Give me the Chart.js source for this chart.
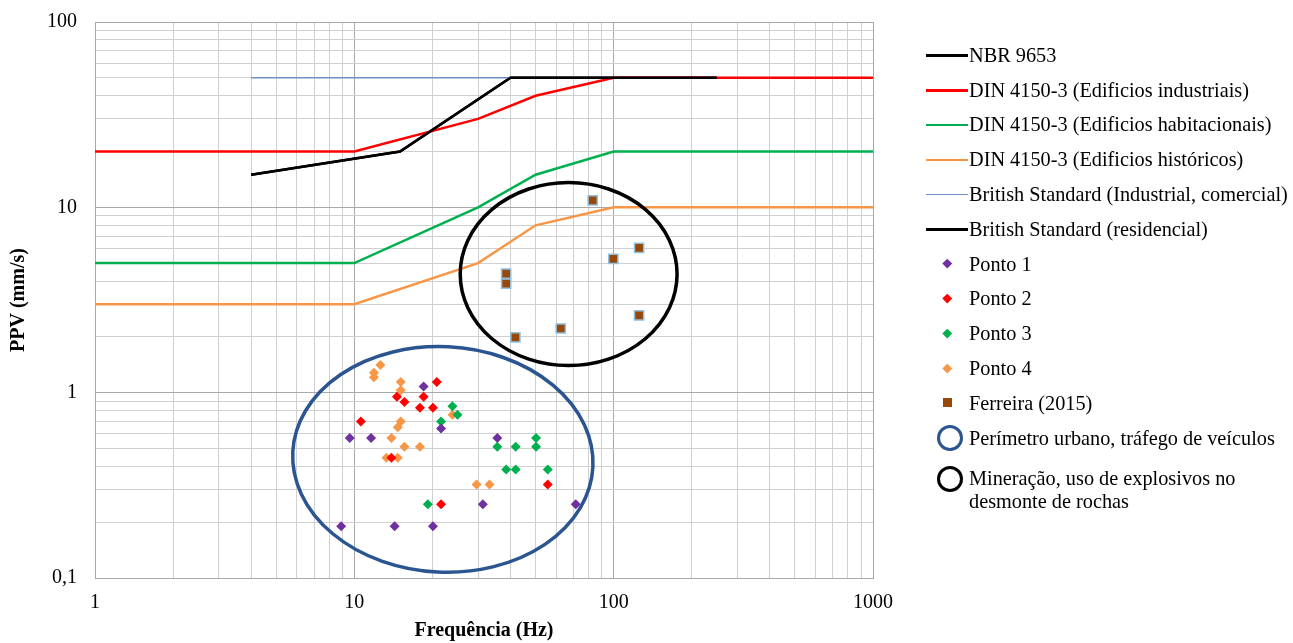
<!DOCTYPE html>
<html>
<head>
<meta charset="utf-8">
<script src="https://cdn.jsdelivr.net/npm/chart.js@4.4.0/dist/chart.umd.min.js"></script>
<style>
html, body { margin: 0; padding: 0; background: #fff; }
#wrap { position: relative; width: 1293px; height: 643px; overflow: hidden; }
#chart { position: absolute; left: 0; top: 0; }
#legend { position: absolute; left: 926px; top: 38px; font-family: "Liberation Serif", "Times New Roman", serif; font-size: 20.3px; color: #000; }
.row { height: 34.8px; display: flex; align-items: center; white-space: nowrap; }
.sample { display: inline-block; position: relative; width: 43px; height: 28px; flex: none; }
.sample .ln { position: absolute; left: 0; right: 1px; top: 13px; height: 2.5px; }
.sample .dm { position: absolute; left: 18px; top: 10px; width: 6.5px; height: 6.5px; transform: rotate(45deg); }
.sample .sq { position: absolute; left: 17px; top: 9px; width: 9px; height: 9px; box-sizing: border-box; }
.sample .cc { position: absolute; left: 11px; top: 1px; width: 26px; height: 26px; box-sizing: border-box; border-radius: 50%; border: 3.5px solid; }
.multi { align-items: flex-start; height: auto; margin-top: 11px; line-height: 23.4px; }
.multi .sample { margin-top: -2px; }
</style>
</head>
<body>
<div id="wrap">
  <canvas id="chart" width="1293" height="643"></canvas>
  <div id="legend"></div>
</div>
<script>
// tick labels
const xTickValues = [1, 10, 100, 1000];
const xTickLabels = ['1', '10', '100', '1000'];
const yTickValues = [0.1, 1, 10, 100];
const yTickLabels = ['0,1', '1', '10', '100'];

// limit curves (Hz / mm/s)
const nbrFreq = [4, 15, 40, 250];
const nbrPpv = [15, 20, 50, 50];
const dinIndFreq = [1, 10, 30, 50, 100, 1000];
const dinIndPpv = [20, 20, 30, 40, 50, 50];
const dinHabFreq = [1, 10, 30, 50, 100, 1000];
const dinHabPpv = [5, 5, 10, 15, 20, 20];
const dinHistFreq = [1, 10, 30, 50, 100, 1000];
const dinHistPpv = [3, 3, 5, 8, 10, 10];
const bsIndFreq = [4, 250];
const bsIndPpv = [50, 50];
const bsResFreq = [4, 15, 40, 250];
const bsResPpv = [15, 20, 50, 50];

// measured points
const ponto1Freq = [18.5, 21.6, 9.6, 11.6, 35.6, 31.3, 71.4, 8.9, 14.3, 20.1];
const ponto1Ppv = [1.08, 0.64, 0.57, 0.57, 0.57, 0.25, 0.25, 0.19, 0.19, 0.19];
const ponto2Freq = [20.8, 18.5, 14.6, 15.6, 17.9, 20.1, 10.6, 13.9, 21.6, 55.7];
const ponto2Ppv = [1.14, 0.95, 0.95, 0.89, 0.83, 0.83, 0.70, 0.445, 0.25, 0.32];
const ponto3Freq = [23.9, 25.0, 21.6, 50.2, 35.6, 41.9, 50.2, 38.5, 41.9, 55.7, 19.2];
const ponto3Ppv = [0.845, 0.76, 0.70, 0.57, 0.51, 0.51, 0.51, 0.385, 0.385, 0.385, 0.25];
const ponto4Freq = [12.6, 11.9, 11.9, 15.1, 15.1, 23.9, 15.1, 14.7, 13.9, 15.6, 17.9, 13.3, 14.7, 29.6, 33.2];
const ponto4Ppv = [1.41, 1.28, 1.21, 1.14, 1.03, 0.76, 0.70, 0.65, 0.57, 0.51, 0.51, 0.445, 0.445, 0.32, 0.32];
const ferreiraFreq = [83.0, 38.5, 38.5, 125.3, 99.7, 125.3, 62.5, 41.8];
const ferreiraPpv = [10.9, 4.39, 3.88, 6.04, 5.27, 2.61, 2.22, 1.99];

// highlighted regions (data units)
const urbanFreqRange = [5.78, 83.3];
const urbanPpvRange = [0.1075, 1.77];
const miningFreqRange = [25.6, 175.6];
const miningPpvRange = [1.40, 13.6];

const pts = (xs, ys) => xs.map((x, i) => ({ x: x, y: ys[i] }));

function lineSet(label, xs, ys, color, width) {
  return { type: 'line', label: label, data: pts(xs, ys), borderColor: color, backgroundColor: color,
    borderWidth: width, pointRadius: 0, tension: 0, fill: false, order: 1 };
}
function pointSet(label, xs, ys, color, style, radius, border) {
  return { type: 'scatter', label: label, data: pts(xs, ys), backgroundColor: color, pointStyle: style,
    pointRadius: radius, pointHoverRadius: radius, pointBorderWidth: border ? 1.5 : 0,
    pointBorderColor: border || color, borderColor: border || color, order: 0 };
}

const datasets = [
  lineSet('NBR 9653', nbrFreq, nbrPpv, '#000000', 2.5),
  lineSet('DIN 4150-3 (Edificios industriais)', dinIndFreq, dinIndPpv, '#ff0000', 2.5),
  lineSet('DIN 4150-3 (Edificios habitacionais)', dinHabFreq, dinHabPpv, '#00b050', 2.5),
  lineSet('DIN 4150-3 (Edificios históricos)', dinHistFreq, dinHistPpv, '#f79646', 2.5),
  lineSet('British Standard (Industrial, comercial)', bsIndFreq, bsIndPpv, '#6f8fc8', 1.5),
  lineSet('British Standard (residencial)', bsResFreq, bsResPpv, '#000000', 2.5),
  pointSet('Ponto 1', ponto1Freq, ponto1Ppv, '#7030a0', 'rectRot', 5),
  pointSet('Ponto 2', ponto2Freq, ponto2Ppv, '#ff0000', 'rectRot', 5),
  pointSet('Ponto 3', ponto3Freq, ponto3Ppv, '#00b050', 'rectRot', 5),
  pointSet('Ponto 4', ponto4Freq, ponto4Ppv, '#f79646', 'rectRot', 5),
  pointSet('Ferreira (2015)', ferreiraFreq, ferreiraPpv, '#984807', 'rect', 6.5, '#8fc1e3')
];

const regions = [
  { label: 'Perímetro urbano, tráfego de veículos', fx: urbanFreqRange, fy: urbanPpvRange, color: '#2b5590', tilt: 0.05 },
  { label: 'Mineração, uso de explosivos no<br>desmonte de rochas', fx: miningFreqRange, fy: miningPpvRange, color: '#000000', tilt: 0 }
];

// drawn right after the limit lines, under the measured points
const regionPlugin = {
  id: 'regions',
  afterDatasetDraw(chart, args) {
    if (args.index !== 0) return;
    const ctx = chart.ctx, sx = chart.scales.x, sy = chart.scales.y;
    ctx.save();
    regions.forEach(r => {
      const x0 = sx.getPixelForValue(r.fx[0]), x1 = sx.getPixelForValue(r.fx[1]);
      const y0 = sy.getPixelForValue(r.fy[0]), y1 = sy.getPixelForValue(r.fy[1]);
      ctx.beginPath();
      ctx.ellipse((x0 + x1) / 2, (y0 + y1) / 2, Math.abs(x1 - x0) / 2, Math.abs(y1 - y0) / 2, r.tilt, 0, Math.PI * 2);
      ctx.lineWidth = 3.5;
      ctx.strokeStyle = r.color;
      ctx.stroke();
    });
    ctx.restore();
  }
};

function logTicks(min, max) {
  const out = [];
  for (let e = Math.round(Math.log10(min)); e < Math.round(Math.log10(max)); e++) {
    for (let m = 1; m < 10; m++) out.push(Number((m * Math.pow(10, e)).toPrecision(6)));
  }
  out.push(max);
  return out;
}
function labelFor(v, values, labels) {
  const i = values.findIndex(t => Math.abs(t - v) < 1e-9);
  return i < 0 ? '' : labels[i];
}
const isDecade = v => Math.abs(Math.log10(v) - Math.round(Math.log10(v))) < 1e-9;
const gridColor = c => (c.tick && isDecade(c.tick.value)) ? '#a9a9a9' : '#d0d0d0';
const tickFont = { family: 'Liberation Serif', size: 20 };
const titleFont = { family: 'Liberation Serif', size: 20, weight: 'bold' };

new Chart(document.getElementById('chart'), {
  type: 'scatter',
  data: { datasets: datasets },
  options: {
    responsive: false,
    animation: false,
    layout: { padding: { left: 0, right: 420, top: 22, bottom: 0 } },
    plugins: { legend: { display: false }, tooltip: { enabled: false } },
    scales: {
      x: {
        type: 'logarithmic', min: 1, max: 1000,
        afterBuildTicks: s => { s.ticks = logTicks(1, 1000).map(v => ({ value: v })); },
        afterFit: s => { s.height = 65; },
        ticks: { autoSkip: false, maxRotation: 0, padding: 13, color: '#000', font: tickFont,
          callback: v => labelFor(v, xTickValues, xTickLabels) },
        grid: { color: gridColor, drawTicks: false },
        border: { color: '#a9a9a9' },
        title: { display: true, text: 'Frequência (Hz)', color: '#000', font: titleFont, padding: { top: 0, bottom: 0 } }
      },
      y: {
        type: 'logarithmic', min: 0.1, max: 100,
        afterBuildTicks: s => { s.ticks = logTicks(0.1, 100).map(v => ({ value: v })); },
        afterFit: s => { s.width = 95; s.paddingTop = 0; s.paddingBottom = 0; },
        ticks: { autoSkip: false, padding: 18, color: '#000', font: tickFont,
          callback: v => labelFor(v, yTickValues, yTickLabels) },
        grid: { color: gridColor, drawTicks: false },
        border: { color: '#a9a9a9' },
        title: { display: true, text: 'PPV (mm/s)', color: '#000', font: titleFont, padding: { top: 7, bottom: 0 } }
      }
    }
  },
  plugins: [regionPlugin]
});

// legend
const legend = document.getElementById('legend');
datasets.forEach(d => {
  const row = document.createElement('div');
  row.className = 'row';
  let mark;
  if (d.type === 'line') {
    mark = '<span class="ln" style="background:' + d.borderColor + ';height:' + d.borderWidth + 'px"></span>';
  } else if (d.pointStyle === 'rect') {
    mark = '<span class="sq" style="background:' + d.backgroundColor + '"></span>';
  } else {
    mark = '<span class="dm" style="background:' + d.backgroundColor + '"></span>';
  }
  row.innerHTML = '<span class="sample">' + mark + '</span><span>' + d.label + '</span>';
  legend.appendChild(row);
});
regions.forEach((r, i) => {
  const row = document.createElement('div');
  row.className = i === regions.length - 1 ? 'row multi' : 'row';
  row.innerHTML = '<span class="sample"><span class="cc" style="border-color:' + r.color + '"></span></span><span>' + r.label + '</span>';
  legend.appendChild(row);
});
</script>
</body>
</html>
